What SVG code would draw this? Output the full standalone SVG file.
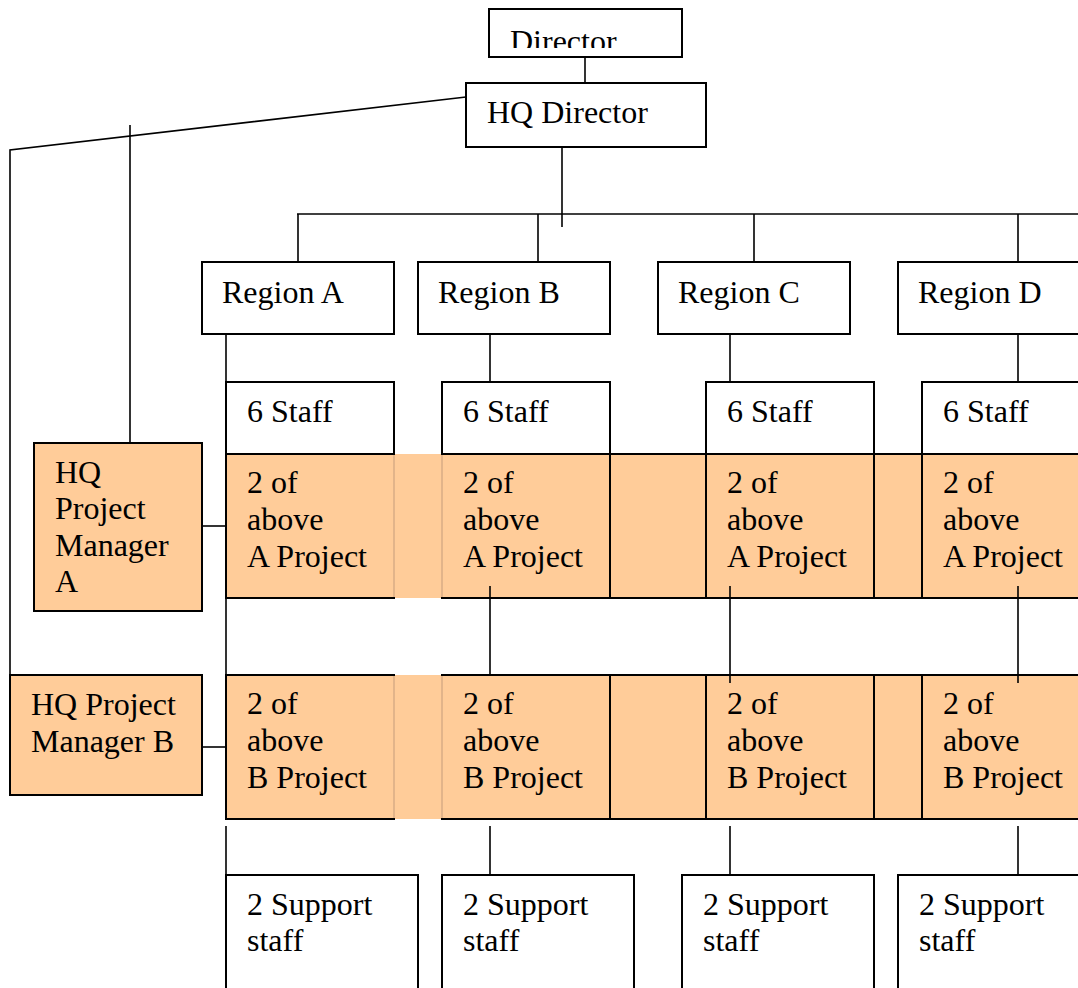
<svg xmlns="http://www.w3.org/2000/svg" width="1078" height="988" viewBox="0 0 1078 988">
<defs>
<style>
.box{fill:#fff;stroke:#000;stroke-width:2}
.obox{fill:#FFCC99;stroke:#000;stroke-width:2}
.fill{fill:#FFCC99;stroke:none}
.seam{stroke:#E2B48A;stroke-width:2}
.t{font-family:"Liberation Serif","Times New Roman",serif;font-size:32px;fill:#000}
.c{stroke:#000;stroke-width:1.6;fill:none}
</style>
<clipPath id="dirclip"><rect x="489" y="9" width="193" height="39"/></clipPath>
</defs>
<rect width="1078" height="988" fill="#fff"/>
<g id="connectors">
<line class="c" x1="585" y1="57" x2="585" y2="83"/>
<polyline class="c" points="466,97 10,150 10,675"/>
<line class="c" x1="130" y1="125" x2="130" y2="443"/>
<line class="c" x1="562" y1="147" x2="562" y2="227"/>
<line class="c" x1="297" y1="214" x2="1078" y2="214"/>
<line class="c" x1="298" y1="214" x2="298" y2="262"/>
<line class="c" x1="538" y1="214" x2="538" y2="262"/>
<line class="c" x1="754" y1="214" x2="754" y2="262"/>
<line class="c" x1="1018" y1="214" x2="1018" y2="262"/>
<line class="c" x1="226" y1="334" x2="226" y2="675"/>
<line class="c" x1="490" y1="334" x2="490" y2="382"/>
<line class="c" x1="730" y1="334" x2="730" y2="382"/>
<line class="c" x1="1018" y1="334" x2="1018" y2="382"/>
<line class="c" x1="202" y1="526" x2="226" y2="526"/>
<line class="c" x1="202" y1="747" x2="226" y2="747"/>
<line class="c" x1="226" y1="826" x2="226" y2="875"/>
<line class="c" x1="490" y1="826" x2="490" y2="875"/>
<line class="c" x1="730" y1="826" x2="730" y2="875"/>
<line class="c" x1="1018" y1="826" x2="1018" y2="875"/>
</g>
<g id="director">
<rect class="box" x="489" y="9" width="193" height="48"/>
<text class="t" x="510" y="52" clip-path="url(#dirclip)">Director</text>
</g>
<g id="hq-director">
<rect class="box" x="466" y="83" width="240" height="64"/>
<text class="t" x="487" y="123">HQ Director</text>
</g>
<g id="region-a"><rect class="box" x="202" y="262" width="192" height="72"/><text class="t" x="222" y="303">Region A</text></g>
<g id="region-b"><rect class="box" x="418" y="262" width="192" height="72"/><text class="t" x="438" y="303">Region B</text></g>
<g id="region-c"><rect class="box" x="658" y="262" width="192" height="72"/><text class="t" x="678" y="303">Region C</text></g>
<g id="region-d"><rect class="box" x="898" y="262" width="190" height="72"/><text class="t" x="918" y="303">Region D</text></g>
<g id="staff-a"><rect class="box" x="226" y="382" width="168" height="72"/><text class="t" x="247" y="422">6 Staff</text></g>
<g id="staff-b"><rect class="box" x="442" y="382" width="168" height="72"/><text class="t" x="463" y="422">6 Staff</text></g>
<g id="staff-c"><rect class="box" x="706" y="382" width="168" height="72"/><text class="t" x="727" y="422">6 Staff</text></g>
<g id="staff-d"><rect class="box" x="922" y="382" width="166" height="72"/><text class="t" x="943" y="422">6 Staff</text></g>
<g id="hq-pm-a">
<rect class="obox" x="34" y="443" width="168" height="168"/>
<text class="t" x="55" y="483">HQ</text>
<text class="t" x="55" y="519">Project</text>
<text class="t" x="55" y="556">Manager</text>
<text class="t" x="55" y="592">A</text>
</g>
<g id="hq-pm-b">
<rect class="obox" x="10" y="675" width="192" height="120"/>
<text class="t" x="31" y="715">HQ Project</text>
<text class="t" x="31" y="752">Manager B</text>
</g>
<g id="row-a">
<rect class="fill" x="393" y="454" width="50" height="144"/>
<rect class="obox" x="226" y="454" width="168" height="144"/>
<rect class="obox" x="442" y="454" width="168" height="144"/>
<rect class="obox" x="610" y="454" width="96" height="144"/>
<rect class="obox" x="706" y="454" width="168" height="144"/>
<rect class="obox" x="874" y="454" width="48" height="144"/>
<rect class="obox" x="922" y="454" width="166" height="144"/>
<line class="seam" x1="394" y1="455" x2="394" y2="597"/>
<line class="seam" x1="442" y1="455" x2="442" y2="597"/>
<text class="t" x="247" y="493">2 of</text><text class="t" x="247" y="530">above</text><text class="t" x="247" y="567">A Project</text>
<text class="t" x="463" y="493">2 of</text><text class="t" x="463" y="530">above</text><text class="t" x="463" y="567">A Project</text>
<text class="t" x="727" y="493">2 of</text><text class="t" x="727" y="530">above</text><text class="t" x="727" y="567">A Project</text>
<text class="t" x="943" y="493">2 of</text><text class="t" x="943" y="530">above</text><text class="t" x="943" y="567">A Project</text>
</g>
<g id="row-b">
<rect class="fill" x="393" y="675" width="50" height="144"/>
<rect class="obox" x="226" y="675" width="168" height="144"/>
<rect class="obox" x="442" y="675" width="168" height="144"/>
<rect class="obox" x="610" y="675" width="96" height="144"/>
<rect class="obox" x="706" y="675" width="168" height="144"/>
<rect class="obox" x="874" y="675" width="48" height="144"/>
<rect class="obox" x="922" y="675" width="166" height="144"/>
<line class="seam" x1="394" y1="676" x2="394" y2="818"/>
<line class="seam" x1="442" y1="676" x2="442" y2="818"/>
<text class="t" x="247" y="714">2 of</text><text class="t" x="247" y="751">above</text><text class="t" x="247" y="788">B Project</text>
<text class="t" x="463" y="714">2 of</text><text class="t" x="463" y="751">above</text><text class="t" x="463" y="788">B Project</text>
<text class="t" x="727" y="714">2 of</text><text class="t" x="727" y="751">above</text><text class="t" x="727" y="788">B Project</text>
<text class="t" x="943" y="714">2 of</text><text class="t" x="943" y="751">above</text><text class="t" x="943" y="788">B Project</text>
</g>
<g id="ab-links">
<line class="c" x1="490" y1="586" x2="490" y2="676"/>
<line class="c" x1="730" y1="586" x2="730" y2="683"/>
<line class="c" x1="1018" y1="586" x2="1018" y2="683"/>
</g>
<g id="support-a"><rect class="box" x="226" y="875" width="192" height="130"/><text class="t" x="247" y="915">2 Support</text><text class="t" x="247" y="951">staff</text></g>
<g id="support-b"><rect class="box" x="442" y="875" width="192" height="130"/><text class="t" x="463" y="915">2 Support</text><text class="t" x="463" y="951">staff</text></g>
<g id="support-c"><rect class="box" x="682" y="875" width="192" height="130"/><text class="t" x="703" y="915">2 Support</text><text class="t" x="703" y="951">staff</text></g>
<g id="support-d"><rect class="box" x="898" y="875" width="190" height="130"/><text class="t" x="919" y="915">2 Support</text><text class="t" x="919" y="951">staff</text></g>
</svg>
